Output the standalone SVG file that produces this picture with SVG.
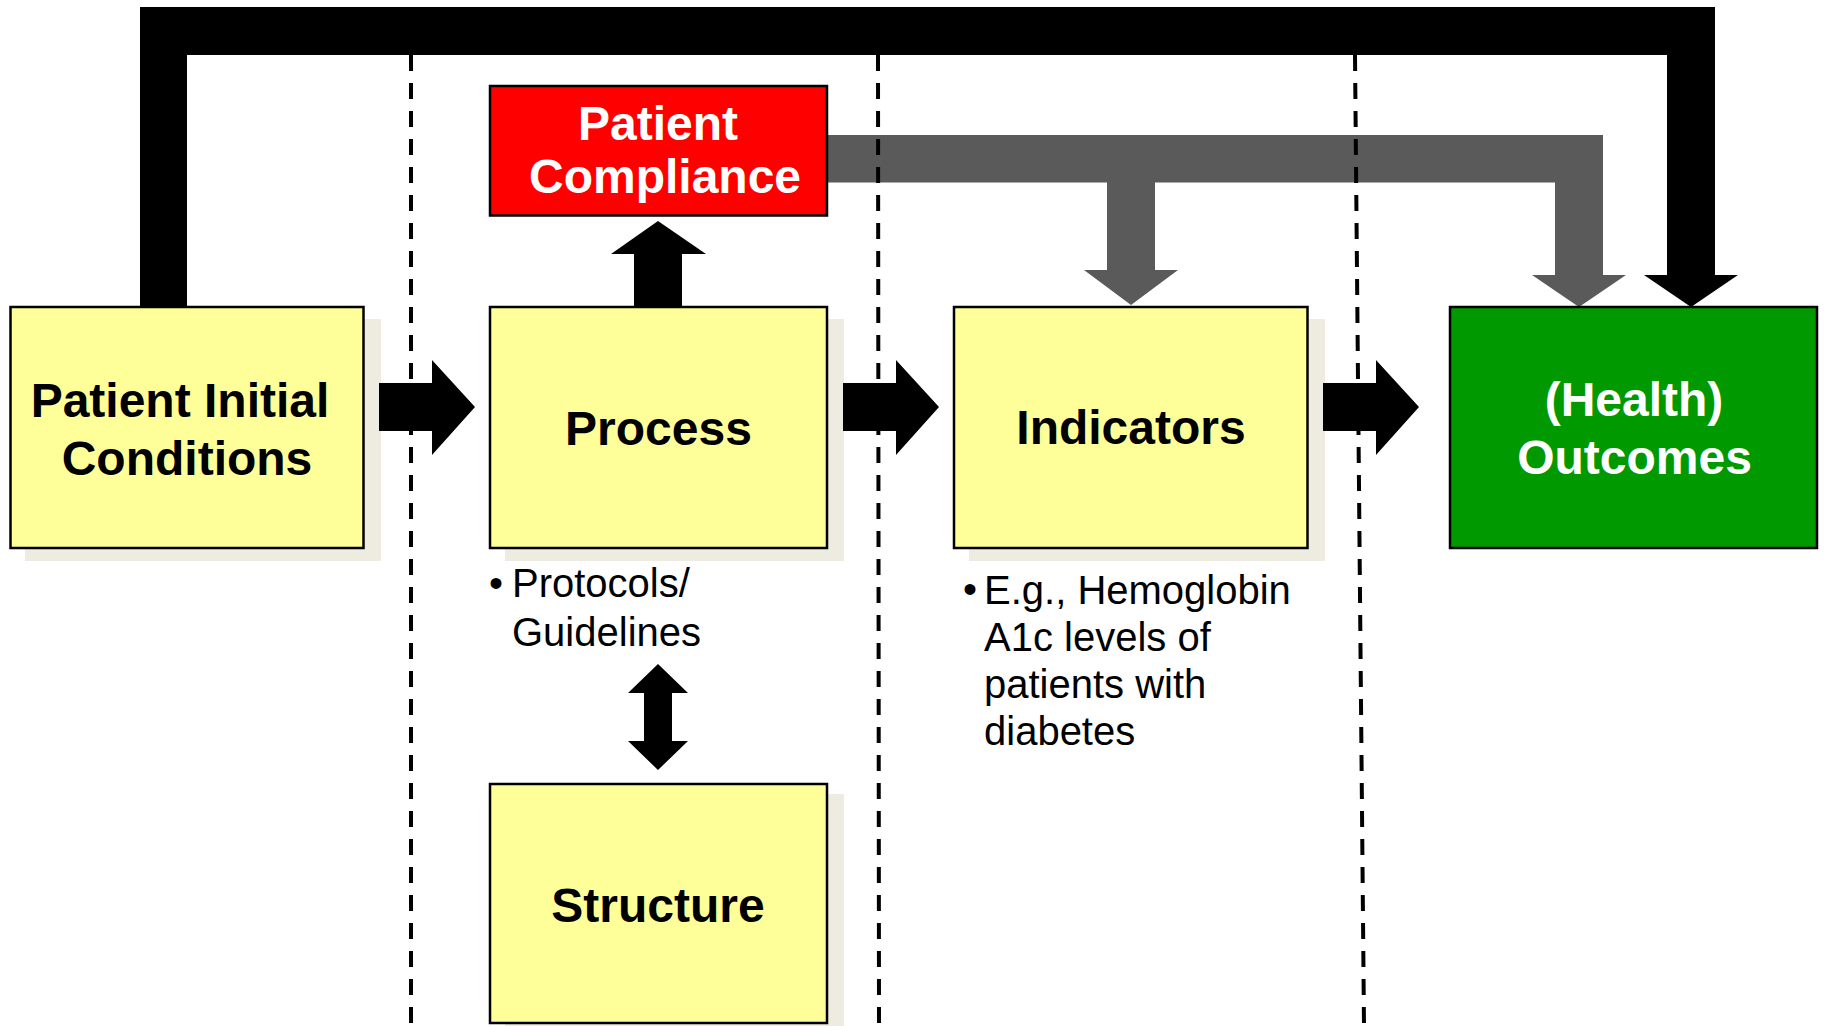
<svg xmlns="http://www.w3.org/2000/svg" width="1824" height="1026" viewBox="0 0 1824 1026">
  <style>
    .box { stroke: #000; stroke-width: 2.5; }
    .note { fill: #FFFF99; }
    .shadow { fill: #EEEBE0; }
    .title { font-family: "Liberation Sans", Arial, sans-serif; font-weight: bold; font-size: 48px; text-anchor: middle; }
    .dark { fill: #000; }
    .light { fill: #fff; }
    .body { font-family: "Liberation Sans", Arial, sans-serif; font-size: 40px; fill: #000; }
    .lane { stroke: #000; stroke-width: 4; stroke-dasharray: 16 12; fill: none; }
    .main { fill: #000; }
    .minor { fill: #5A5A5A; }
  </style>

  <rect width="1824" height="1026" fill="#fff"/>

  <!-- drop shadows behind the yellow boxes -->
  <g id="shadows">
    <rect class="shadow" x="25" y="319" width="356" height="242"/>
    <rect class="shadow" x="505" y="319" width="339" height="242"/>
    <rect class="shadow" x="969" y="319" width="356" height="242"/>
    <rect class="shadow" x="505" y="794" width="339" height="240"/>
  </g>

  <!-- connectors -->
  <g id="connectors">
    <!-- initial conditions straight over the top to outcomes -->
    <path class="main" d="M140,309 V7 H1715 V275 H1738 L1691,307 L1644,275 H1667 V55 H187 V309 Z"/>
    <!-- compliance feeding indicators and outcomes -->
    <path class="minor" d="M827,135 H1603 V275 H1626 L1579,307 L1532,275 H1555 V182.5 H1155 V270 H1178 L1131,305 L1084,270 H1107 V182.5 H827 Z"/>
    <!-- left-to-right flow -->
    <path class="main" d="M379,383 H432 V360 L475,407 L432,455 V431 H379 Z"/>
    <path class="main" d="M843,383 H896 V360 L939,407 L896,455 V431 H843 Z"/>
    <path class="main" d="M1323,383 H1376 V360 L1419,407 L1376,455 V431 H1323 Z"/>
    <!-- process up to compliance -->
    <path class="main" d="M634,311 V254 H611 L658,221 L706,254 H682 V311 Z"/>
    <!-- process / structure two-way -->
    <path class="main" d="M658,664 L688,693 H672 V741 H688 L658,770 L628,741 H644 V693 H628 Z"/>
  </g>

  <!-- stage separators -->
  <g id="lanes">
    <line class="lane" x1="411" y1="55" x2="411" y2="1026"/>
    <line class="lane" x1="878" y1="55" x2="879" y2="1026"/>
    <line class="lane" x1="1355" y1="55" x2="1364" y2="1026"/>
  </g>

  <g id="initial-conditions">
    <rect class="box note" x="10.5" y="307" width="353" height="241"/>
    <text class="title dark" x="180" y="417">Patient Initial</text>
    <text class="title dark" x="187" y="474.5">Conditions</text>
  </g>

  <g id="process">
    <rect class="box note" x="490" y="307" width="337" height="241"/>
    <text class="title dark" x="658.5" y="445">Process</text>
  </g>

  <g id="compliance">
    <rect class="box" fill="#FF0000" x="490" y="86" width="337" height="129.5"/>
    <text class="title light" x="658" y="140">Patient</text>
    <text class="title light" x="665" y="193">Compliance</text>
  </g>

  <g id="indicators">
    <rect class="box note" x="954" y="307" width="353.5" height="241"/>
    <text class="title dark" x="1131" y="444">Indicators</text>
  </g>

  <g id="outcomes">
    <rect class="box" fill="#009900" x="1450" y="307" width="367" height="241"/>
    <text class="title light" x="1634" y="416">(Health)</text>
    <text class="title light" x="1634.5" y="474">Outcomes</text>
  </g>

  <g id="structure">
    <rect class="box note" x="490" y="784" width="337" height="239"/>
    <text class="title dark" x="658" y="922">Structure</text>
  </g>

  <g id="process-notes">
    <text class="body" x="489" y="597">•</text>
    <text class="body" x="512" y="597">Protocols/</text>
    <text class="body" x="512" y="646">Guidelines</text>
  </g>

  <g id="indicator-notes">
    <text class="body" x="963" y="603" font-size="30">•</text>
    <text class="body" x="984" y="604">E.g., Hemoglobin</text>
    <text class="body" x="984" y="651">A1c levels of</text>
    <text class="body" x="984" y="698">patients with</text>
    <text class="body" x="984" y="745">diabetes</text>
  </g>
</svg>
